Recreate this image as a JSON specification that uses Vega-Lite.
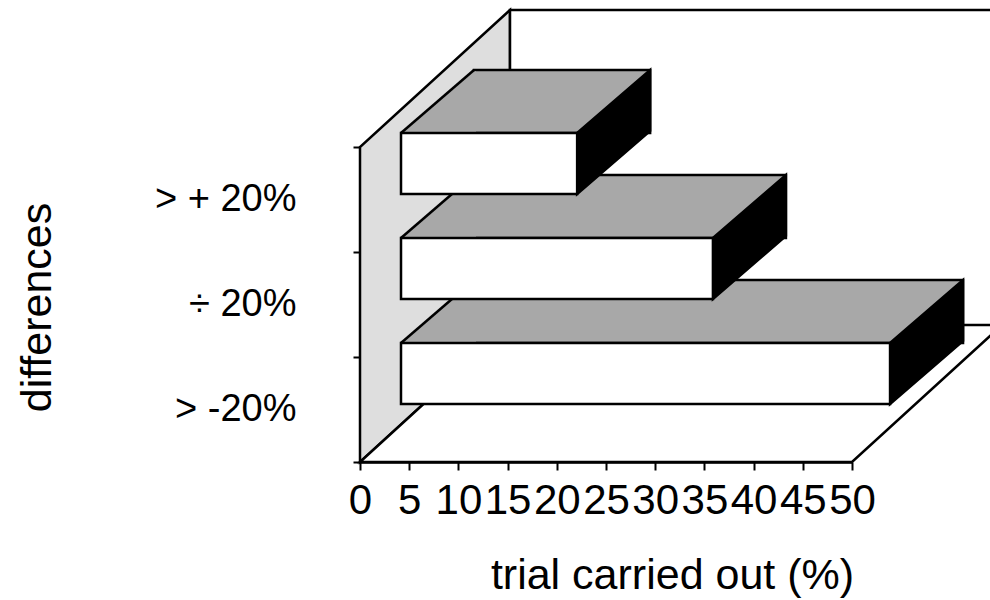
{
  "$schema": "https://vega.github.io/schema/vega-lite/v6.json",
  "width": 492,
  "height": 315,
  "autosize": {"type": "none"},
  "padding": {"left": 360, "top": 147, "right": 138, "bottom": 138},
  "background": "white",
  "config": {
    "view": {"stroke": null},
    "font": "Liberation Sans",
    "axisX": {
      "values": [0, 5, 10, 15, 20, 25, 30, 35, 40, 45, 50],
      "labelFontSize": 42, "labelColor": "black", "labelPadding": 10,
      "labelOverlap": false, "labelFlush": false, "labelBound": false,
      "tickSize": 8, "tickWidth": 2, "tickColor": "black",
      "domainColor": "black", "domainWidth": 2.5, "grid": false,
      "titleFontSize": 43, "titleFontWeight": "normal", "titleColor": "black",
      "titleX": 312, "titleY": 126, "titleBaseline": "alphabetic", "titleAlign": "center"
    },
    "axisY": {
      "labelFontSize": 38, "labelColor": "black", "labelPadding": 57,
      "tickSize": 7, "tickWidth": 2, "tickColor": "black", "tickBand": "extent",
      "domainColor": "black", "domainWidth": 2.5, "grid": false,
      "titleFontSize": 43, "titleFontWeight": "normal", "titleColor": "black",
      "titleX": -310, "titleY": 160, "titleAngle": 270, "titleAlign": "center", "titleBaseline": "alphabetic"
    }
  },
  "data": {"values": [
    {"diff": "> + 20%", "pct": 17.9},
    {"diff": "÷ 20%", "pct": 31.7},
    {"diff": "> -20%", "pct": 49.7}
  ]},
  "encoding": {
    "y": {
      "field": "diff", "type": "nominal",
      "scale": {"domain": ["> + 20%", "÷ 20%", "> -20%"], "paddingInner": 0, "paddingOuter": 0},
      "title": "differences"
    }
  },
  "layer": [
    {
      "transform": [{"filter": "datum.diff === '> -20%'"}],
      "mark": {"type": "point", "shape": "M 0 52.5 L 0 -262.5 L 150 -399.5 L 150 -84.5 Z", "size": 4, "filled": true, "fill": "#dedede", "stroke": "black", "strokeWidth": 2.5, "strokeJoin": "miter", "opacity": 1},
      "encoding": {"x": {"datum": 0, "type": "quantitative", "scale": {"domain": [0, 50], "nice": false}, "title": "trial carried out (%)"}}
    },
    {
      "transform": [{"filter": "datum.diff === '> -20%'"}],
      "mark": {"type": "point", "shape": "M 150 -84.5 L 150 -399.5 L 642 -399.5 L 642 -84.5 Z M 0 52.5 L 492 52.5 L 642 -84.5 L 150 -84.5 Z", "size": 4, "filled": true, "fill": "white", "stroke": "black", "strokeWidth": 2.5, "strokeJoin": "miter", "opacity": 1},
      "encoding": {"x": {"datum": 0, "type": "quantitative", "title": "trial carried out (%)"}}
    },
    {
      "mark": {"type": "bar", "size": 63, "xOffset": 114, "x2Offset": 114, "yOffset": -98, "fill": "#a8a8a8", "stroke": "black", "strokeWidth": 2.5, "strokeJoin": "miter"},
      "encoding": {"x": {"field": "pct", "type": "quantitative", "title": "trial carried out (%)"}, "x2": {"datum": 0}}
    },
    {
      "mark": {"type": "point", "shape": "M 41 -66.5 L 116 -66.5 L 116 -128.2 L 112.5 -128.2 Z", "size": 4, "filled": true, "fill": "#a8a8a8", "strokeWidth": 0, "opacity": 1},
      "encoding": {"x": {"datum": 0, "type": "quantitative", "title": "trial carried out (%)"}}
    },
    {
      "mark": {"type": "point", "shape": "M 41 -66.5 L 114 -129.5", "size": 4, "filled": false, "stroke": "black", "strokeWidth": 2.5, "opacity": 1},
      "encoding": {"x": {"datum": 0, "type": "quantitative", "title": "trial carried out (%)"}}
    },
    {
      "mark": {"type": "point", "shape": "M 41 -66.5 L 114 -129.5 L 114 -68.5 L 41 -5.5 Z", "size": 4, "filled": true, "fill": "black", "stroke": "black", "strokeWidth": 2.5, "strokeJoin": "miter", "opacity": 1},
      "encoding": {"x": {"field": "pct", "type": "quantitative", "title": "trial carried out (%)"}}
    },
    {
      "mark": {"type": "bar", "size": 61, "xOffset": 41, "x2Offset": 41, "yOffset": -36, "fill": "white", "stroke": "black", "strokeWidth": 2.5, "strokeJoin": "miter"},
      "encoding": {"x": {"field": "pct", "type": "quantitative", "title": "trial carried out (%)"}, "x2": {"datum": 0}}
    }
  ]
}
